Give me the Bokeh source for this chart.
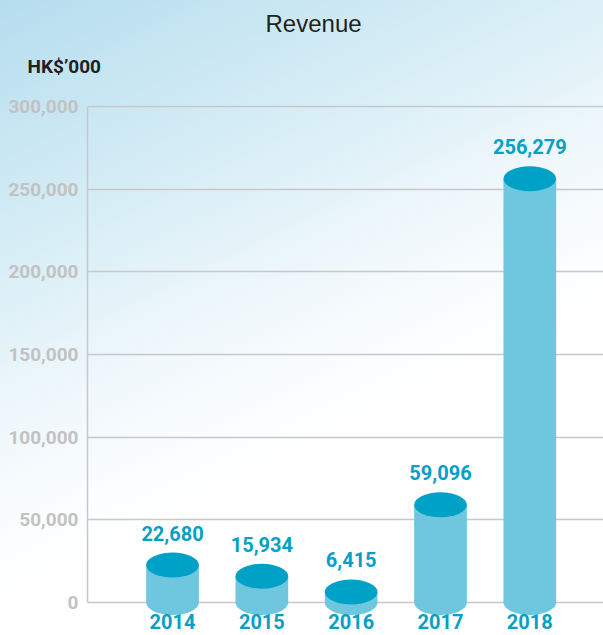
from bokeh.plotting import figure
from bokeh.models import Range1d, FixedTicker, NumeralTickFormatter, ColumnDataSource, Title
from bokeh.core.properties import value
from bokeh.embed import file_html
from bokeh.resources import INLINE

# ---- data ----
years = [2014, 2015, 2016, 2017, 2018]
year_labels = ["2014", "2015", "2016", "2017", "2018"]
revenue = [22680, 15934, 6415, 59096, 256279]
revenue_labels = [f"{v:,}" for v in revenue]
y_ticks = [0, 50000, 100000, 150000, 200000, 250000, 300000]
title_text = "Revenue"
unit_text = "HK$\u2019000"

# ---- style ----
BOLD_FONT = "Roboto"
BODY = "#6ec7df"
TOP = "#00a1c7"
TEXT_BLUE = "#069fc6"
GRID = "#c8c8c8"
TICK_GRAY = "#c2c2c2"

p = figure(width=603, height=635, output_backend="svg", toolbar_location=None,
           x_range=Range1d(2013.048, 2018.825), y_range=Range1d(-19919, 312072),
           x_axis_location=None, y_axis_location="left",
           min_border_left=87, min_border_right=0, min_border_top=85, min_border_bottom=0,
           background_fill_color=None, border_fill_color=None, outline_line_color=None)

p.styles = {"background": "linear-gradient(154deg, #b5ddef 0%, #cbe8f3 18%, #dcf0f7 32%, "
                          "#eef7fb 45%, #fbfdfe 58%, #ffffff 65%, #ffffff 100%)"}

# chart title (outermost)
p.title.text = title_text
p.title.align = "left"
p.title.offset = 178
p.title.standoff = 15
p.title.text_font = "Liberation Sans"
p.title.text_font_style = "normal"
p.title.text_font_size = "24px"
p.title.text_color = "#231f20"

# unit label (closest to the frame)
p.add_layout(Title(text=unit_text, align="left", offset=-60, standoff=17,
                   text_font=BOLD_FONT, text_font_style="bold",
                   text_font_size="19px", text_color="#231f20"), "above")

yax = p.yaxis[0]
yax.ticker = FixedTicker(ticks=y_ticks)
yax.formatter = NumeralTickFormatter(format="0,0")
yax.bounds = (0, 300000)
yax.axis_line_color = GRID
yax.axis_line_width = 1.5
yax.major_tick_line_color = None
yax.minor_tick_line_color = None
yax.major_tick_in = 0
yax.major_tick_out = 0
yax.minor_tick_in = 0
yax.minor_tick_out = 0
yax.major_label_standoff = 9
yax.major_label_text_font = BOLD_FONT
yax.major_label_text_font_style = "bold"
yax.major_label_text_font_size = "19px"
yax.major_label_text_color = TICK_GRAY

p.ygrid.ticker = FixedTicker(ticks=y_ticks)
p.ygrid.grid_line_color = GRID
p.ygrid.grid_line_width = 1.5
p.xgrid.visible = False

src = ColumnDataSource(dict(year=years, revenue=revenue, label=revenue_labels, ylab=year_labels))

cyl_w = 0.59
cap_h = 15090

p.ellipse(x="year", y=0, width=cyl_w, height=cap_h, source=src, fill_color=BODY, line_color=None)
p.vbar(x="year", bottom=0, top="revenue", width=cyl_w, source=src, fill_color=BODY, line_color=None)
p.ellipse(x="year", y="revenue", width=cyl_w, height=cap_h, source=src, fill_color=TOP, line_color=None)

p.text(x="year", y="revenue", text="label", source=src, y_offset=-32,
       text_align="center", text_baseline="alphabetic",
       text_font=value(BOLD_FONT), text_font_style="bold", text_font_size="20px", text_color=TEXT_BLUE)
p.text(x="year", y=0, text="ylab", source=src, y_offset=19,
       text_align="center", text_baseline="alphabetic",
       text_font=value(BOLD_FONT), text_font_style="bold", text_font_size="20px", text_color=TEXT_BLUE)

open("out.html", "w").write(file_html(p, INLINE))
